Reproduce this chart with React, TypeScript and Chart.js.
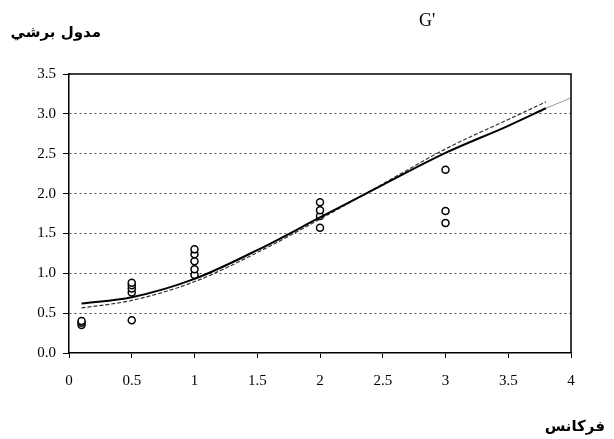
import React, { useEffect, useRef } from "react";
import { Chart, registerables } from "chart.js";

Chart.register(...registerables);

const yTitle = "مدول برشي";
const topLabel = "G'";
const xTitle = "فرکانس";

const xTickValues = [0, 0.5, 1, 1.5, 2, 2.5, 3, 3.5, 4];
const xTickLabels = ["0", "0.5", "1", "1.5", "2", "2.5", "3", "3.5", "4"];
const yTickValues = [0, 0.5, 1, 1.5, 2, 2.5, 3, 3.5];
const yTickLabels = ["0.0", "0.5", "1.0", "1.5", "2.0", "2.5", "3.0", "3.5"];

// measured points
const pointX = [0.1, 0.1, 0.1, 0.5, 0.5, 0.5, 0.5, 0.5, 1, 1, 1, 1, 1, 2, 2, 2, 2, 3, 3, 3];
const pointY = [0.35, 0.38, 0.4, 0.41, 0.76, 0.81, 0.85, 0.88, 0.98, 1.05, 1.15, 1.24, 1.3, 1.57, 1.72, 1.79, 1.89, 1.63, 1.78, 2.3];

// solid model curve
const solidX = [0.1, 0.5, 1.0, 1.5, 2.0, 2.5, 3.0, 3.5, 3.8];
const solidY = [0.62, 0.7, 0.93, 1.29, 1.7, 2.11, 2.51, 2.85, 3.07];

// thin grey extension
const extX = [3.8, 4.0];
const extY = [3.07, 3.2];

// dashed model curve
const dashX = [0.1, 0.5, 1.0, 1.5, 2.0, 2.5, 3.0, 3.5, 3.8];
const dashY = [0.565, 0.66, 0.895, 1.26, 1.68, 2.12, 2.56, 2.93, 3.15];

const zip = (xs: number[], ys: number[]) => xs.map((x, i) => ({ x, y: ys[i] }));

export default function App() {
  const ref = useRef<HTMLCanvasElement | null>(null);

  useEffect(() => {
    document.body.style.margin = "0";
    if (!ref.current) return;

    const textPlugin = {
      id: "texts",
      afterDraw(chart: any) {
        const { ctx, chartArea } = chart;
        ctx.save();
        ctx.strokeStyle = "#000";
        ctx.lineWidth = 1.5;
        ctx.setLineDash([]);
        ctx.beginPath();
        ctx.moveTo(chartArea.left, chartArea.top);
        ctx.lineTo(chartArea.right, chartArea.top);
        ctx.lineTo(chartArea.right, chartArea.bottom);
        ctx.stroke();
        ctx.fillStyle = "#000";
        ctx.textBaseline = "middle";
        ctx.font = "bold 15px 'DejaVu Sans'";
        ctx.textAlign = "right";
        ctx.fillText(yTitle, 101, 33);
        ctx.fillText(xTitle, 605, 427);
        ctx.textAlign = "left";
        ctx.font = "18px 'Liberation Serif'";
        ctx.fillText(topLabel, 419, 21);
        ctx.restore();
      },
    };

    const chart = new Chart(ref.current, {
      type: "scatter",
      data: {
        datasets: [
          {
            type: "line",
            data: zip(solidX, solidY),
            borderColor: "#000",
            borderWidth: 2,
            pointRadius: 0,
            cubicInterpolationMode: "monotone",
            fill: false,
          } as any,
          {
            type: "line",
            data: zip(extX, extY),
            borderColor: "#999",
            borderWidth: 1,
            pointRadius: 0,
            fill: false,
          } as any,
          {
            type: "line",
            data: zip(dashX, dashY),
            borderColor: "#333",
            borderWidth: 1.2,
            borderDash: [4, 2],
            pointRadius: 0,
            cubicInterpolationMode: "monotone",
            fill: false,
          } as any,
          {
            data: zip(pointX, pointY),
            pointStyle: "circle",
            pointRadius: 3.5,
            borderColor: "#000",
            borderWidth: 1.5,
            backgroundColor: "#fff",
          },
        ],
      },
      options: {
        responsive: false,
        animation: false,
        layout: { padding: { left: 0, right: 43, top: 74, bottom: 0 } },
        plugins: { legend: { display: false }, tooltip: { enabled: false }, title: { display: false } },
        scales: {
          x: {
            type: "linear",
            min: 0,
            max: 4,
            afterBuildTicks(scale: any) {
              scale.ticks = xTickValues.map((v) => ({ value: v }));
            },
            ticks: {
              color: "#000",
              font: { family: "'Liberation Serif'", size: 15 },
              padding: 14,
              callback: (v: any) => {
                const i = xTickValues.indexOf(Number(v));
                return i >= 0 ? xTickLabels[i] : "";
              },
            },
            grid: { drawOnChartArea: false, drawTicks: true, tickLength: 5, color: "#000", tickColor: "#000" },
            border: { display: true, color: "#000", width: 1.5 },
            afterFit(scale: any) {
              scale.height = 86;
            },
          },
          y: {
            type: "linear",
            min: 0,
            max: 3.5,
            afterBuildTicks(scale: any) {
              scale.ticks = yTickValues.map((v) => ({ value: v }));
            },
            ticks: {
              color: "#000",
              font: { family: "'Liberation Serif'", size: 15 },
              padding: 7,
              callback: (v: any) => {
                const i = yTickValues.indexOf(Number(v));
                return i >= 0 ? yTickLabels[i] : "";
              },
            },
            grid: {
              drawTicks: true,
              tickLength: 6,
              color: (c: any) => (c.tick && (c.tick.value === 0 || c.tick.value === 3.5) ? "rgba(0,0,0,0)" : "#444"),
              lineWidth: 1,
              tickBorderDash: [1, 0],
              tickColor: "#000",
            },
            border: { display: true, color: "#000", width: 1.5, dash: [2, 3] },
            afterFit(scale: any) {
              scale.width = 69;
            },
          },
        },
      } as any,
      plugins: [textPlugin],
    });

    return () => chart.destroy();
  }, []);

  return <canvas ref={ref} width={614} height={439} style={{ display: "block" }} />;
}
